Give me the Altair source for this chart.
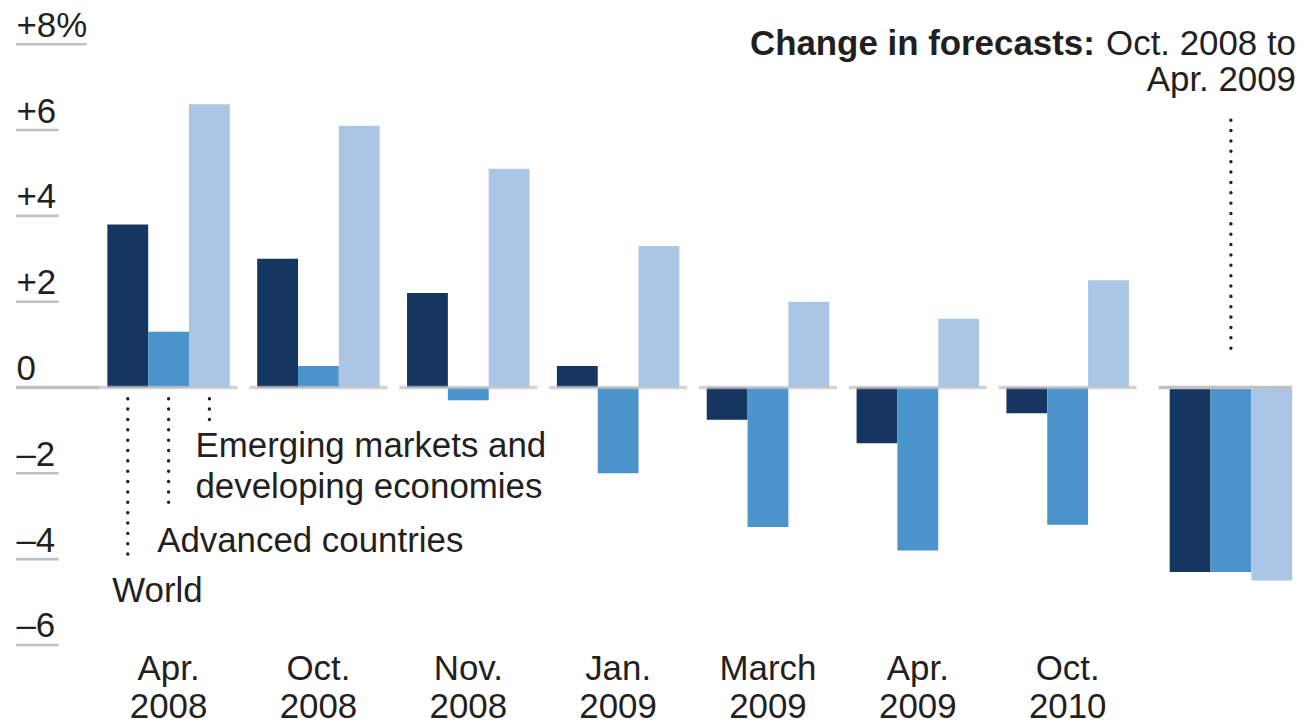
import altair as alt
import pandas as pd

# ---------------- data ----------------
groups = ["Apr. 2008", "Oct. 2008", "Nov. 2008", "Jan. 2009",
          "March 2009", "Apr. 2009", "Oct. 2010"]
series = ["World", "Advanced countries",
          "Emerging markets and developing economies"]
world = [3.8, 3.0, 2.2, 0.5, -0.75, -1.3, -0.6]
advanced = [1.3, 0.5, -0.3, -2.0, -3.25, -3.8, -3.2]
emerging = [6.6, 6.1, 5.1, 3.3, 2.0, 1.6, 2.5]
change_group = ["Change"]
change_values = [-4.3, -4.3, -4.5]
y_ticks = [8, 6, 4, 2, 0, -2, -4, -6]
y_tick_labels = ["+8%", "+6", "+4", "+2", "0", "–2", "–4", "–6"]
colors = ["#153660", "#4b94cb", "#abc6e4"]

rows = []
for i, g in enumerate(groups):
    for s, vals in zip(series, [world, advanced, emerging]):
        rows.append({"group": g, "series": s, "value": vals[i]})
main_df = pd.DataFrame(rows)
change_df = pd.DataFrame({"group": change_group * 3, "series": series,
                          "value": change_values})

# ---------------- style ----------------
FONT = "Liberation Sans"
FS = 35
TXT = "#231f20"
GRAY = "#c1c1c5"
W_LEFT = 1053
W_RIGHT = 140
H = 603

label_expr = " : ".join(
    f"datum.value == {v} ? '{t}'" for v, t in zip(y_ticks, y_tick_labels)
) + " : ''"

ysc = alt.Scale(domain=[-6, 8], nice=False, zero=False)
yaxis = alt.Axis(title=None, values=y_ticks, labelExpr=label_expr,
                 labelAlign="left", labelBaseline="alphabetic",
                 labelPadding=78, labelOffset=-8, ticks=False, tickSize=0,
                 domain=False, grid=False, labelFont=FONT, labelFontSize=FS,
                 labelColor=TXT)
xsc = alt.Scale(domain=groups, paddingInner=0.1827, paddingOuter=0.0914)
xaxis = alt.Axis(title=None, labelExpr="split(datum.label, ' ')",
                 labelAngle=0, labelBaseline="alphabetic", labelPadding=35,
                 labelLineHeight=38, ticks=False, tickSize=0, domain=False,
                 labelFont=FONT, labelFontSize=FS, labelColor=TXT)
X = alt.X("group:N", sort=groups, scale=xsc, axis=xaxis)
XO = alt.XOffset("series:N", sort=series,
                 scale=alt.Scale(domain=series, paddingInner=0, paddingOuter=0))
color = alt.Color("series:N", scale=alt.Scale(domain=series, range=colors),
                  legend=None)

def Y(field):
    return alt.Y(field, type="quantitative", scale=ysc, axis=yaxis)

# ---------------- left panel ----------------
bars = alt.Chart(main_df).mark_bar().encode(x=X, xOffset=XO, y=Y("value"),
                                             color=color)

zero_df = pd.DataFrame({"group": groups, "v": [0] * len(groups)})
zero_segs = alt.Chart(zero_df).mark_tick(
    orient="horizontal", size=138.5, thickness=3.5, color=GRAY
).encode(x=X, y=Y("v"))

tick_df = pd.DataFrame({"v": y_ticks, "label": y_tick_labels})
under_short = alt.Chart(tick_df).transform_filter(
    "datum.v != 8 && datum.v != 0").mark_rule(
    color=GRAY, strokeWidth=2.6).encode(
    x=alt.value(-78), x2=alt.value(-35), y=Y("v"))
under_long = alt.Chart(tick_df).transform_filter("datum.v == 8").mark_rule(
    color=GRAY, strokeWidth=2.6).encode(
    x=alt.value(-78), x2=alt.value(-7), y=Y("v"))
under_zero = alt.Chart(tick_df).transform_filter("datum.v == 0").mark_rule(
    color=GRAY, strokeWidth=3.5).encode(
    x=alt.value(-78), x2=alt.value(6), y=Y("v"))

lead_df = pd.DataFrame({
    "group": [groups[0]] * 3,
    "series": series,
    "top": [-0.26, -0.26, -0.26],
    "bottom": [-4.05, -2.86, -0.77],
})
leaders = alt.Chart(lead_df).mark_rule(
    color=TXT, strokeWidth=3.4, strokeDash=[0.1, 10.3], strokeCap="round"
).encode(x=X, xOffset=XO, y=Y("top"), y2="bottom")

ann_rows = [
    ("Emerging markets and developing economies", "Emerging markets and", -1.62),
    ("Emerging markets and developing economies", "developing economies", -2.57),
    ("Advanced countries", "Advanced countries", -3.83),
    ("World", "World", -5.0),
]
ann_dx = {"World": -15.5, "Advanced countries": -11.5,
          "Emerging markets and developing economies": -14}
ann_layers = []
for s in series:
    sub = pd.DataFrame([{"group": groups[0], "series": r[0], "text": r[1],
                         "v": r[2]} for r in ann_rows if r[0] == s])
    ann_layers.append(alt.Chart(sub).mark_text(
        align="left", baseline="alphabetic", font=FONT, fontSize=FS,
        color=TXT, dx=ann_dx[s]).encode(x=X, xOffset=XO, y=Y("v"),
                                        text="text:N"))

left = alt.layer(bars, under_short, under_long, under_zero, zero_segs,
                 leaders, *ann_layers).properties(width=W_LEFT, height=H)

# ---------------- right panel ----------------
xsc2 = alt.Scale(domain=change_group, paddingInner=0, paddingOuter=0.07,
                 align=1)
X2 = alt.X("group:N", scale=xsc2, axis=None)

def Yr(field):
    return alt.Y(field, type="quantitative", scale=ysc, axis=None)

bars2 = alt.Chart(change_df).mark_bar().encode(x=X2, xOffset=XO,
                                                y=Yr("value"), color=color)
zero2 = alt.Chart(pd.DataFrame({"v": [0]})).mark_rule(
    color=GRAY, strokeWidth=3.5).encode(
    x=alt.value(6), x2=alt.value(W_RIGHT), y=Yr("v"))
lead2 = alt.Chart(pd.DataFrame({"group": change_group,
                                "series": [series[1]],
                                "top": [6.23], "bottom": [0.72]})).mark_rule(
    color=TXT, strokeWidth=3.4, strokeDash=[0.1, 10.3], strokeCap="round"
).encode(x=X2, xOffset=XO, y=Yr("top"), y2="bottom")

title_df = pd.DataFrame({
    "bold": ["Change in forecasts:", ""],
    "text": ["Oct. 2008 to", "Apr. 2009"],
    "v": [7.74, 6.9],
})
title_norm = alt.Chart(title_df).mark_text(
    align="right", baseline="alphabetic", font=FONT, fontSize=FS, color=TXT
).encode(x=alt.value(W_RIGHT + 4), y=Yr("v"), text="text:N")
title_bold = alt.Chart(title_df).transform_filter("datum.bold != ''").mark_text(
    align="right", baseline="alphabetic", font=FONT, fontSize=FS, color=TXT,
    fontWeight="bold", dx=-202
).encode(x=alt.value(W_RIGHT + 4), y=Yr("v"), text="bold:N")

right = alt.layer(bars2, zero2, lead2, title_norm, title_bold).properties(
    width=W_RIGHT, height=H)

chart = alt.hconcat(left, right, spacing=10, bounds="flush").properties(
    padding={"left": 6, "top": -1, "right": 0, "bottom": 0},
    background="white",
).configure_view(strokeWidth=0, stroke="transparent")

chart.save("out.html", embed_options={"renderer": "svg", "actions": False})
